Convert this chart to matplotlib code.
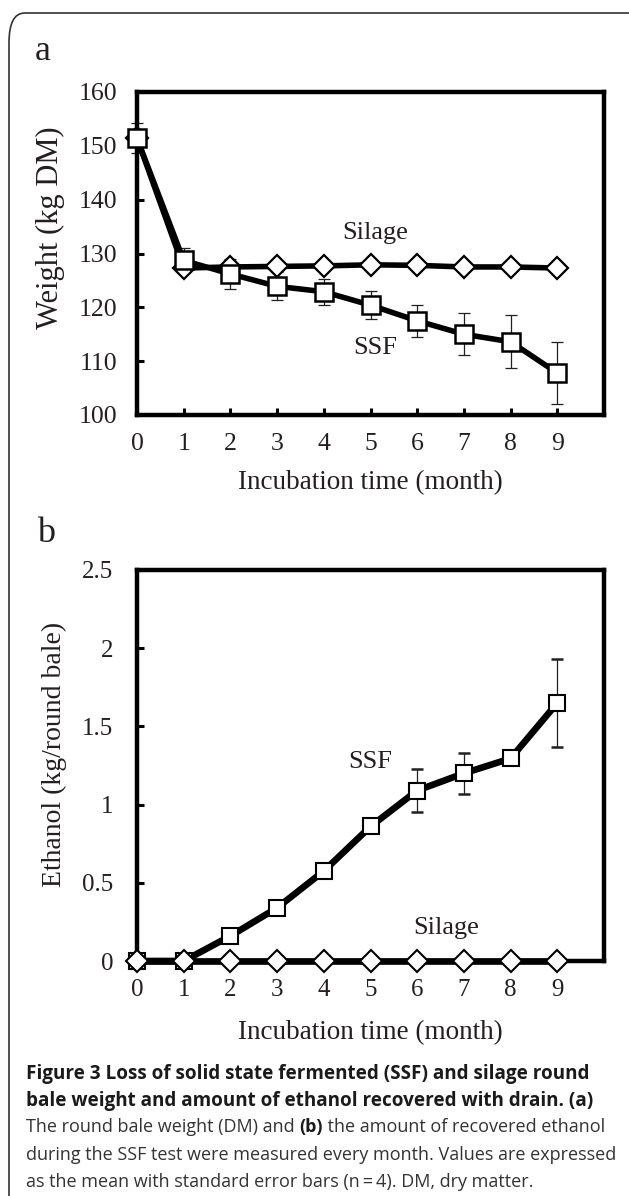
import matplotlib
matplotlib.use("Agg")
import matplotlib.pyplot as plt
from matplotlib.patches import FancyBboxPatch

# data
months = [0, 1, 2, 3, 4, 5, 6, 7, 8, 9]

ssf_weight = [151.4, 128.7, 126.2, 123.9, 122.9, 120.4, 117.5, 115.0, 113.6, 107.8]
ssf_weight_err = [2.8, 2.3, 2.8, 2.6, 2.45, 2.65, 3.0, 3.9, 4.9, 5.8]
silage_weight = [151.4, 127.3, 127.5, 127.6, 127.7, 127.9, 127.8, 127.5, 127.5, 127.3]

ssf_ethanol = [0.0, 0.0, 0.16, 0.34, 0.575, 0.86, 1.09, 1.20, 1.295, 1.65]
ssf_ethanol_err = [0.0, 0.0, 0.0, 0.0, 0.0, 0.0, 0.14, 0.13, 0.04, 0.28]
silage_ethanol = [0, 0, 0, 0, 0, 0, 0, 0, 0, 0]

weight_ticks = [100, 110, 120, 130, 140, 150, 160]
ethanol_ticks = [0, 0.5, 1, 1.5, 2, 2.5]
ethanol_ticklabels = ["0", "0.5", "1", "1.5", "2", "2.5"]

W, H = 629, 1196
SERIF = "Liberation Serif"
INK = "#231f20"

fig = plt.figure(figsize=(W / 100, H / 100), dpi=100)
fig.patch.set_facecolor("white")


def box(x0, y0, x1, y1):
    # pixel box (top origin) -> figure fraction
    return [x0 / W, 1 - y1 / H, (x1 - x0) / W, (y1 - y0) / H]


def fx(x):
    return x / W


def fy(y):
    return 1 - y / H


# rounded frame around the whole figure
frame = FancyBboxPatch((fx(9), fy(1230)), fx(660) - fx(9), fy(13) - fy(1230),
                       boxstyle="round,pad=0,rounding_size=0.025",
                       transform=fig.transFigure, facecolor="none",
                       edgecolor="#333333", linewidth=1.2)
fig.patches.append(frame)


def style_axes(ax, ylim, yticks, yticklabels, ypad, size):
    ax.set_xlim(0, 10)
    ax.set_ylim(*ylim)
    ax.set_xticks(months)
    ax.set_xticklabels([str(m) for m in months])
    ax.set_yticks(yticks)
    ax.set_yticklabels(yticklabels)
    for s in ax.spines.values():
        s.set_linewidth(3.2)
        s.set_color("black")
    ax.tick_params(direction="in", length=5, width=2.2, colors="black",
                   labelcolor=INK, labelsize=size)
    ax.tick_params(axis="y", pad=ypad)
    ax.tick_params(axis="x", pad=13)
    for lab in ax.get_xticklabels() + ax.get_yticklabels():
        lab.set_fontfamily(SERIF)


# ---- panel a ----
ax1 = fig.add_axes(box(137, 92, 604, 415))
style_axes(ax1, (100, 160), weight_ticks, [str(t) for t in weight_ticks], 14, 18.5)

ax1.errorbar(months, ssf_weight, yerr=ssf_weight_err, fmt="none",
             ecolor=INK, elinewidth=0.9, capsize=4.5, capthick=0.9,
             zorder=2, clip_on=False)
ax1.plot(months, silage_weight, color="black", lw=4, marker="D", ms=11.5,
         mfc="white", mec="black", mew=1.6, zorder=3, clip_on=False)
ax1.plot(months, ssf_weight, color="black", lw=4, marker="s", ms=13,
         mfc="white", mec="black", mew=1.8, zorder=4, clip_on=False)

fig.text(fx(375), fy(233), "Silage", family=SERIF, fontsize=19, color=INK,
         ha="center", va="center")
fig.text(fx(375), fy(348), "SSF", family=SERIF, fontsize=19, color=INK,
         ha="center", va="center")
fig.text(fx(35), fy(52), "a", family=SERIF, fontsize=26, color=INK,
         ha="left", va="center")
fig.text(fx(370), fy(483), "Incubation time (month)", family=SERIF,
         fontsize=19.5, color=INK, ha="center", va="center")
fig.text(fx(50), fy(228), "Weight (kg DM)", family=SERIF, fontsize=22,
         color=INK, ha="center", va="center", rotation=90)

# ---- panel b ----
ax2 = fig.add_axes(box(137, 570, 604, 961))
style_axes(ax2, (0, 2.5), ethanol_ticks, ethanol_ticklabels, 17, 18)

ax2.errorbar(months, ssf_ethanol, yerr=ssf_ethanol_err, fmt="none",
             ecolor=INK, elinewidth=0.9, capsize=4.5, capthick=1.8,
             zorder=2, clip_on=False)
ax2.plot(months, ssf_ethanol, color="black", lw=4.8, marker="s", ms=11,
         mfc="white", mec="black", mew=1.5, zorder=3, clip_on=False)
ax2.plot(months, silage_ethanol, color="black", lw=4.8, marker="D", ms=11.5,
         mfc="white", mec="black", mew=1.5, zorder=4, clip_on=False)

fig.text(fx(370), fy(762), "SSF", family=SERIF, fontsize=19, color=INK,
         ha="center", va="center")
fig.text(fx(446), fy(928), "Silage", family=SERIF, fontsize=19, color=INK,
         ha="center", va="center")
fig.text(fx(37), fy(533), "b", family=SERIF, fontsize=26, color=INK,
         ha="left", va="center")
fig.text(fx(370), fy(1033), "Incubation time (month)", family=SERIF,
         fontsize=19.5, color=INK, ha="center", va="center")
fig.text(fx(54), fy(754), "Ethanol (kg/round bale)", family=SERIF,
         fontsize=20, color=INK, ha="center", va="center", rotation=90)

# ---- caption ----
SANS = "Open Sans"
bold_size = 13.6
reg_size = 13.0
cap_x = fx(26)
fig.text(cap_x, fy(1074), "Figure 3 Loss of solid state fermented (SSF) and silage round",
         family=SANS, weight="bold", fontsize=bold_size, color="#1a1a1a", va="center")
fig.text(cap_x, fy(1101), "bale weight and amount of ethanol recovered with drain. (a)",
         family=SANS, weight="bold", fontsize=bold_size, color="#1a1a1a", va="center")
t1 = fig.text(cap_x, fy(1127), "The round bale weight (DM) and ",
              family=SANS, fontsize=reg_size, color="#333333", va="center")
t2 = fig.text(0, 0, "(b)", family=SANS, weight="bold", fontsize=reg_size,
              color="#1a1a1a", va="bottom", ha="left")
fig.canvas.draw()
r = fig.canvas.get_renderer()
bb = t1.get_window_extent(r)
inv = fig.transFigure.inverted()
x_end, y_bot = inv.transform((bb.x1, bb.y0))
t2.set_position((x_end, y_bot))
fig.canvas.draw()
bb2 = t2.get_window_extent(r)
x_end2, _ = inv.transform((bb2.x1, bb2.y0))
fig.text(x_end2, y_bot, " the amount of recovered ethanol", family=SANS,
         fontsize=reg_size, color="#333333", va="bottom", ha="left")
fig.text(cap_x, fy(1155), "during the SSF test were measured every month. Values are expressed",
         family=SANS, fontsize=reg_size, color="#333333", va="center")
fig.text(cap_x, fy(1182), "as the mean with standard error bars (n\u2009=\u20094). DM, dry matter.",
         family=[SANS, "DejaVu Sans"], fontsize=reg_size, color="#333333", va="center")

fig.savefig("out.png", dpi=100, facecolor="white")
